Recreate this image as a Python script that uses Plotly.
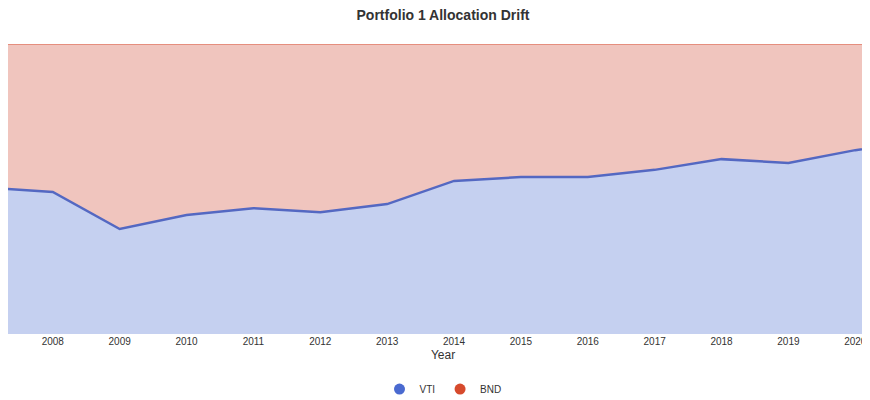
import plotly.graph_objects as go

years = [2007, 2008, 2009, 2010, 2011, 2012, 2013, 2014, 2015, 2016, 2017, 2018, 2019, 2020, 2021]
vti = [50.5, 49.0, 36.2, 41.0, 43.4, 42.0, 44.8, 52.8, 54.1, 54.1, 56.6, 60.3, 59.0, 63.4, 66.5]
bnd = [100 - v for v in vti]

fig = go.Figure()
fig.add_trace(go.Scatter(x=years, y=vti, stackgroup="one", mode="lines", name="VTI",
                         line=dict(color="#5468c2", width=2.5), fillcolor="rgba(197,208,240,1)", showlegend=False))
fig.add_trace(go.Scatter(x=years, y=bnd, stackgroup="one", mode="lines", name="BND",
                         line=dict(color="#d9583f", width=1), fillcolor="rgba(240,197,190,1)", showlegend=False))
for name, c in [("VTI", "#4a6ad0"), ("BND", "#d64a2c")]:
    fig.add_trace(go.Scatter(x=[None], y=[None], mode="markers", name=name,
                             marker=dict(color=c, size=11)))

fig.update_layout(
    width=870, height=400, margin=dict(l=0, r=0, t=36, b=74, autoexpand=False),
    paper_bgcolor="white", plot_bgcolor="white",
    font=dict(family="Liberation Sans, Arial", size=10, color="#333"),
    title=dict(text="<b>Portfolio 1 Allocation Drift</b>", x=0.5, y=0.995, yanchor="top",
               font=dict(size=14, color="#333")),
    legend=dict(orientation="h", traceorder="normal", x=0.5, xanchor="center", y=-0.14, yanchor="top",
                font=dict(size=10)),
    xaxis=dict(range=[2007.33, 2020.34], dtick=1, showgrid=False, ticks="", automargin=False,
               title=dict(text="Year", standoff=4), zeroline=False),
    yaxis=dict(range=[0, 100], dtick=20, showticklabels=False, gridcolor="rgba(0,0,0,0.1)",
               zeroline=False, automargin=False, layer="above traces"),
)
fig.write_html("out.html")
